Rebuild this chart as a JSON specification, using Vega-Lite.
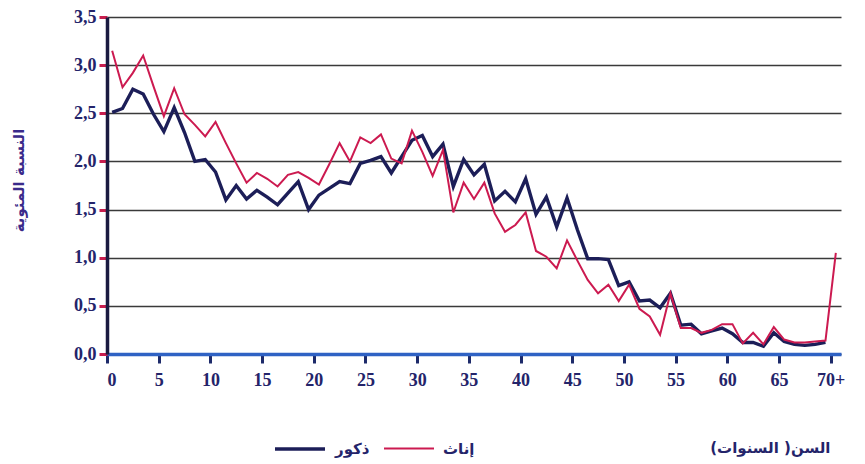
{
  "$schema": "https://vega.github.io/schema/vega-lite/v6.json",
  "width": 734,
  "height": 337,
  "autosize": {"type": "none"},
  "padding": {"left": 107, "top": 17, "right": 24, "bottom": 110},
  "background": "white",
  "config": {
    "view": {"stroke": null},
    "axis": {"labelFont": "Liberation Serif", "labelFontWeight": "bold", "labelFontSize": 18, "labelColor": "#24246a"}
  },
  "data": {"values": [
    {"age":0,"sex":"ذكور","value":2.51},{"age":1,"sex":"ذكور","value":2.55},{"age":2,"sex":"ذكور","value":2.75},{"age":3,"sex":"ذكور","value":2.70},{"age":4,"sex":"ذكور","value":2.49},
    {"age":5,"sex":"ذكور","value":2.31},{"age":6,"sex":"ذكور","value":2.56},{"age":7,"sex":"ذكور","value":2.30},{"age":8,"sex":"ذكور","value":2.00},{"age":9,"sex":"ذكور","value":2.02},
    {"age":10,"sex":"ذكور","value":1.89},{"age":11,"sex":"ذكور","value":1.60},{"age":12,"sex":"ذكور","value":1.75},{"age":13,"sex":"ذكور","value":1.61},{"age":14,"sex":"ذكور","value":1.70},
    {"age":15,"sex":"ذكور","value":1.63},{"age":16,"sex":"ذكور","value":1.55},{"age":17,"sex":"ذكور","value":1.67},{"age":18,"sex":"ذكور","value":1.79},{"age":19,"sex":"ذكور","value":1.50},
    {"age":20,"sex":"ذكور","value":1.65},{"age":21,"sex":"ذكور","value":1.72},{"age":22,"sex":"ذكور","value":1.79},{"age":23,"sex":"ذكور","value":1.77},{"age":24,"sex":"ذكور","value":1.98},
    {"age":25,"sex":"ذكور","value":2.01},{"age":26,"sex":"ذكور","value":2.05},{"age":27,"sex":"ذكور","value":1.88},{"age":28,"sex":"ذكور","value":2.05},{"age":29,"sex":"ذكور","value":2.22},
    {"age":30,"sex":"ذكور","value":2.27},{"age":31,"sex":"ذكور","value":2.05},{"age":32,"sex":"ذكور","value":2.18},{"age":33,"sex":"ذكور","value":1.74},{"age":34,"sex":"ذكور","value":2.02},
    {"age":35,"sex":"ذكور","value":1.86},{"age":36,"sex":"ذكور","value":1.97},{"age":37,"sex":"ذكور","value":1.59},{"age":38,"sex":"ذكور","value":1.69},{"age":39,"sex":"ذكور","value":1.58},
    {"age":40,"sex":"ذكور","value":1.82},{"age":41,"sex":"ذكور","value":1.45},{"age":42,"sex":"ذكور","value":1.63},{"age":43,"sex":"ذكور","value":1.32},{"age":44,"sex":"ذكور","value":1.62},
    {"age":45,"sex":"ذكور","value":1.29},{"age":46,"sex":"ذكور","value":0.99},{"age":47,"sex":"ذكور","value":0.99},{"age":48,"sex":"ذكور","value":0.98},{"age":49,"sex":"ذكور","value":0.71},
    {"age":50,"sex":"ذكور","value":0.75},{"age":51,"sex":"ذكور","value":0.55},{"age":52,"sex":"ذكور","value":0.56},{"age":53,"sex":"ذكور","value":0.48},{"age":54,"sex":"ذكور","value":0.63},
    {"age":55,"sex":"ذكور","value":0.30},{"age":56,"sex":"ذكور","value":0.31},{"age":57,"sex":"ذكور","value":0.21},{"age":58,"sex":"ذكور","value":0.24},{"age":59,"sex":"ذكور","value":0.27},
    {"age":60,"sex":"ذكور","value":0.21},{"age":61,"sex":"ذكور","value":0.12},{"age":62,"sex":"ذكور","value":0.12},{"age":63,"sex":"ذكور","value":0.08},{"age":64,"sex":"ذكور","value":0.22},
    {"age":65,"sex":"ذكور","value":0.13},{"age":66,"sex":"ذكور","value":0.10},{"age":67,"sex":"ذكور","value":0.09},{"age":68,"sex":"ذكور","value":0.10},{"age":69,"sex":"ذكور","value":0.12},
    {"age":0,"sex":"إناث","value":3.15},{"age":1,"sex":"إناث","value":2.77},{"age":2,"sex":"إناث","value":2.92},{"age":3,"sex":"إناث","value":3.10},{"age":4,"sex":"إناث","value":2.78},
    {"age":5,"sex":"إناث","value":2.47},{"age":6,"sex":"إناث","value":2.76},{"age":7,"sex":"إناث","value":2.49},{"age":8,"sex":"إناث","value":2.38},{"age":9,"sex":"إناث","value":2.26},
    {"age":10,"sex":"إناث","value":2.41},{"age":11,"sex":"إناث","value":2.19},{"age":12,"sex":"إناث","value":1.98},{"age":13,"sex":"إناث","value":1.78},{"age":14,"sex":"إناث","value":1.88},
    {"age":15,"sex":"إناث","value":1.82},{"age":16,"sex":"إناث","value":1.74},{"age":17,"sex":"إناث","value":1.86},{"age":18,"sex":"إناث","value":1.89},{"age":19,"sex":"إناث","value":1.83},
    {"age":20,"sex":"إناث","value":1.76},{"age":21,"sex":"إناث","value":1.97},{"age":22,"sex":"إناث","value":2.19},{"age":23,"sex":"إناث","value":2.00},{"age":24,"sex":"إناث","value":2.25},
    {"age":25,"sex":"إناث","value":2.19},{"age":26,"sex":"إناث","value":2.28},{"age":27,"sex":"إناث","value":2.03},{"age":28,"sex":"إناث","value":1.98},{"age":29,"sex":"إناث","value":2.32},
    {"age":30,"sex":"إناث","value":2.10},{"age":31,"sex":"إناث","value":1.85},{"age":32,"sex":"إناث","value":2.12},{"age":33,"sex":"إناث","value":1.47},{"age":34,"sex":"إناث","value":1.78},
    {"age":35,"sex":"إناث","value":1.61},{"age":36,"sex":"إناث","value":1.78},{"age":37,"sex":"إناث","value":1.46},{"age":38,"sex":"إناث","value":1.27},{"age":39,"sex":"إناث","value":1.34},
    {"age":40,"sex":"إناث","value":1.47},{"age":41,"sex":"إناث","value":1.07},{"age":42,"sex":"إناث","value":1.01},{"age":43,"sex":"إناث","value":0.89},{"age":44,"sex":"إناث","value":1.18},
    {"age":45,"sex":"إناث","value":0.97},{"age":46,"sex":"إناث","value":0.77},{"age":47,"sex":"إناث","value":0.63},{"age":48,"sex":"إناث","value":0.72},{"age":49,"sex":"إناث","value":0.55},
    {"age":50,"sex":"إناث","value":0.72},{"age":51,"sex":"إناث","value":0.47},{"age":52,"sex":"إناث","value":0.39},{"age":53,"sex":"إناث","value":0.20},{"age":54,"sex":"إناث","value":0.63},
    {"age":55,"sex":"إناث","value":0.27},{"age":56,"sex":"إناث","value":0.27},{"age":57,"sex":"إناث","value":0.22},{"age":58,"sex":"إناث","value":0.25},{"age":59,"sex":"إناث","value":0.31},
    {"age":60,"sex":"إناث","value":0.31},{"age":61,"sex":"إناث","value":0.11},{"age":62,"sex":"إناث","value":0.22},{"age":63,"sex":"إناث","value":0.10},{"age":64,"sex":"إناث","value":0.28},
    {"age":65,"sex":"إناث","value":0.15},{"age":66,"sex":"إناث","value":0.12},{"age":67,"sex":"إناث","value":0.12},{"age":68,"sex":"إناث","value":0.13},{"age":69,"sex":"إناث","value":0.14},
    {"age":70,"sex":"إناث","value":1.05}
  ]},
  "mark": {"type": "line", "strokeJoin": "miter", "clip": false},
  "encoding": {
    "x": {
      "field": "age", "type": "quantitative",
      "scale": {"domain": [-0.5, 70.5], "nice": false, "zero": false},
      "axis": {
        "values": [-0.5, 4.5, 9.5, 14.5, 19.5, 24.5, 29.5, 34.5, 39.5, 44.5, 49.5, 54.5, 59.5, 64.5, 69.5],
        "labelExpr": "datum.value > 69 ? '70+' : format(datum.value + 0.5, 'd')",
        "grid": false,
        "domainColor": "#2f62c4", "domainWidth": 3.5,
        "tickColor": "#1d2a6a", "tickWidth": 3, "tickSize": 9,
        "labelPadding": 8,
        "title": "السن( السنوات)",
        "titleFont": "DejaVu Sans", "titleFontWeight": "bold", "titleFontSize": 15, "titleColor": "#24246a",
        "titleX": 723, "titleY": 93, "titleAlign": "right", "titleAnchor": null, "titleBaseline": "middle"
      }
    },
    "y": {
      "field": "value", "type": "quantitative",
      "scale": {"domain": [0, 3.5], "nice": false},
      "axis": {
        "values": [0, 0.5, 1, 1.5, 2, 2.5, 3, 3.5],
        "labelExpr": "replace(format(datum.value, '.1f'), '.', ',')",
        "grid": true, "gridColor": "#3a3a3a", "gridWidth": 1.3,
        "domainColor": "#1a1a40", "domainWidth": 3.5,
        "tickColor": "#c81e4e", "tickWidth": 3, "tickSize": 8,
        "labelPadding": 3,
        "title": "النسبة المئوية",
        "titleFont": "DejaVu Sans", "titleFontWeight": "bold", "titleFontSize": 15, "titleColor": "#3a2a8a",
        "titleX": -89, "titleY": 163, "titleAnchor": null, "titleAlign": "center", "titleBaseline": "middle"
      }
    },
    "color": {
      "field": "sex", "type": "nominal", "title": null,
      "scale": {"domain": ["ذكور", "إناث"], "range": ["#1c1e58", "#cc1a50"]},
      "legend": {
        "orient": "none", "legendX": 166, "legendY": 405, "direction": "horizontal",
        "symbolType": "stroke", "symbolSize": 2500, "symbolStrokeWidth": 3,
        "labelFont": "DejaVu Sans", "labelFontWeight": "bold", "labelFontSize": 15, "labelColor": "#24246a",
        "labelOffset": 8, "columnPadding": 10
      }
    },
    "strokeWidth": {
      "field": "sex", "type": "nominal", "title": null,
      "scale": {"domain": ["ذكور", "إناث"], "range": [3.4, 2]},
      "legend": null
    }
  }
}
